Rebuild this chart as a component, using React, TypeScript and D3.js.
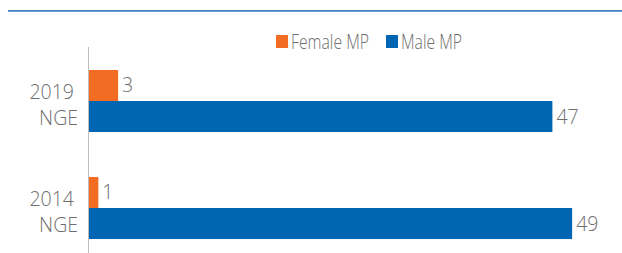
import React from "react";
import * as d3 from "d3";

const categories = ["2019 NGE", "2014 NGE"];
const catLine1 = ["2019", "2014"];
const catLine2 = ["NGE", "NGE"];
const seriesNames = ["Female MP", "Male MP"];
const femaleMP = [3, 1];
const maleMP = [47, 49];
const colors = ["#F36C24", "#0065B2"];

const W = 622;
const H = 253;

export default function App() {
  const y = d3.scaleBand<string>().domain(categories).range([47.5, 261.5]).paddingInner(0.42).paddingOuter(0.21);
  const inner = d3.scaleBand<string>().domain(seriesNames).range([0, y.bandwidth()]);
  const x = d3.scaleLinear().domain([0, 50]).range([88.5, 88.5 + 493.5]);
  const values = [femaleMP, maleMP];
  const font = "'Open Sans', 'Noto Sans', sans-serif";
  const textColor = "#6e6e6e";
  const legendX = [276, 386];

  return (
    <svg width={W} height={H} style={{ position: "absolute", left: 0, top: 0 }} fontFamily={font}>
      <rect width={W} height={H} fill="#fff" />
      <line x1={8} x2={W} y1={10.8} y2={10.8} stroke="#3f7fc0" strokeWidth={1.7} />
      {seriesNames.map((s, i) => (
        <g key={s}>
          <rect x={legendX[i]} y={35} width={12} height={13} fill={colors[i]} />
          <text x={legendX[i] + 15} y={48.5} fontSize={19.5} fontWeight={300} fill={textColor}
            textLength={i === 0 ? 78 : 61} lengthAdjust="spacingAndGlyphs">{s}</text>
        </g>
      ))}
      {categories.map((c, ci) => {
        const y0 = y(c)!;
        const cy = y0 + y.bandwidth() / 2;
        return (
          <g key={c}>
            <text x={74} y={cy - 2} textAnchor="end" fontSize={19.5} fontWeight={300} fill={textColor}>{catLine1[ci]}</text>
            <text x={78} y={cy + 23.5} textAnchor="end" fontSize={19.5} fontWeight={300} fill={textColor}>{catLine2[ci]}</text>
            {seriesNames.map((s, si) => {
              const v = values[si][ci];
              const by = y0 + inner(s)!;
              return (
                <g key={s}>
                  <rect x={x(0)} y={by} width={x(v) - x(0)} height={inner.bandwidth()} fill={colors[si]} />
                  <text x={x(v) + 4} y={by + inner.bandwidth() / 2 + 7} fontSize={19.5} fontWeight={300} fill={textColor}>{v}</text>
                </g>
              );
            })}
          </g>
        );
      })}
      <line x1={88.5} x2={88.5} y1={47} y2={H} stroke="#bdbdbd" strokeWidth={1} />
    </svg>
  );
}
